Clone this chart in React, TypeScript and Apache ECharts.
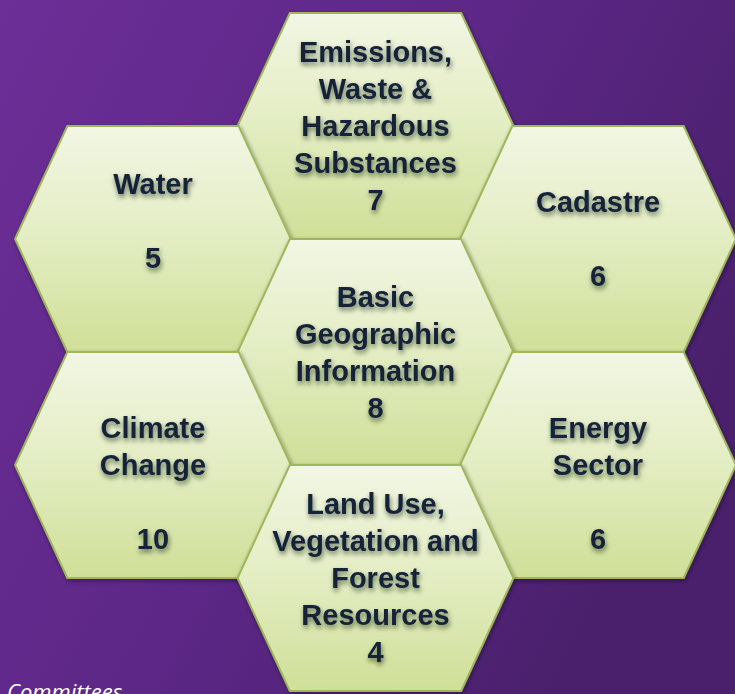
import React, { useEffect, useRef } from "react";
import * as echarts from "echarts";

// Committee names, member counts and honeycomb cell (column, half-row) of each
const committees = [
  "Emissions,\nWaste &\nHazardous\nSubstances",
  "Water",
  "Cadastre",
  "Basic\nGeographic\nInformation",
  "Climate\nChange",
  "Energy\nSector",
  "Land Use,\nVegetation and\nForest\nResources",
];
const counts = [7, 5, 6, 8, 10, 6, 4];
const columns = [1, 0, 2, 1, 0, 2, 1];
const rows = [0, 1, 1, 2, 3, 3, 4];
// blank lines in each cell's text (before name, between name and count, after count)
const leadBlank = [0, 0, 0, 0, 1, 1, 0];
const gapBlank = [0, 1, 1, 0, 1, 1, 0];
const trailBlank = [0, 1, 0, 0, 0, 0, 0];
const footerText = "Committees";

const labels = committees.map(
  (name, i) =>
    "\n".repeat(leadBlank[i]) +
    name +
    "\n" +
    "\n".repeat(gapBlank[i]) +
    String(counts[i]) +
    "\n".repeat(trailBlank[i])
);

export default function App() {
  const ref = useRef<HTMLDivElement>(null);
  useEffect(() => {
    document.body.style.margin = "0";
    const chart = echarts.init(ref.current!, null, { renderer: "svg" });
    const data = committees.map((_, i) => [columns[i], rows[i], counts[i], i]);
    chart.setOption({
      animation: false,
      grid: { left: 153, right: 137, top: 126, bottom: 116 },
      xAxis: { type: "value", min: 0, max: 2, show: false },
      yAxis: { type: "value", min: 0, max: 4, inverse: true, show: false },
      graphic: [
        {
          type: "rect",
          z: -10,
          silent: true,
          shape: { x: 0, y: 0, width: 735, height: 694 },
          style: {
            fill: new echarts.graphic.LinearGradient(0, 0, 1, 0.5, [
              { offset: 0, color: "#6c2e97" },
              { offset: 0.55, color: "#5c2786" },
              { offset: 1, color: "#4a206c" },
            ]),
          },
        },
        {
          type: "text",
          left: 7,
          top: 680,
          z: 10,
          style: {
            text: footerText,
            fontFamily: "Open Sans",
            fontStyle: "italic",
            fontSize: 22,
            fill: "#ffffff",
          },
        },
      ],
      series: [
        {
          type: "custom",
          coordinateSystem: "cartesian2d",
          clip: false,
          data,
          renderItem: (params: any, api: any) => {
            const idx = api.value(3);
            const c = api.coord([api.value(0), api.value(1)]);
            const s = api.size([1, 1]);
            const hw = s[0] * 0.62;
            const ht = s[0] * 0.385;
            const hh = s[1];
            const pts = [
              [c[0] - hw, c[1]],
              [c[0] - ht, c[1] - hh],
              [c[0] + ht, c[1] - hh],
              [c[0] + hw, c[1]],
              [c[0] + ht, c[1] + hh],
              [c[0] - ht, c[1] + hh],
            ];
            return {
              type: "group",
              children: [
                {
                  type: "polygon",
                  shape: { points: pts },
                  style: {
                    fill: new echarts.graphic.LinearGradient(0, 0, 0, 1, [
                      { offset: 0, color: "#f2f6e4" },
                      { offset: 0.5, color: "#e3edc2" },
                      { offset: 1, color: "#d0df98" },
                    ]),
                    stroke: "#9db75a",
                    lineWidth: 2,
                    shadowBlur: 4,
                    shadowColor: "rgba(20,0,40,0.45)",
                    shadowOffsetX: 1,
                    shadowOffsetY: 2,
                  },
                },
                {
                  type: "text",
                  style: {
                    text: labels[idx],
                    x: c[0],
                    y: c[1],
                    align: "center",
                    verticalAlign: "middle",
                    fontFamily: "Liberation Sans",
                    fontWeight: "bold",
                    fontSize: 29,
                    lineHeight: 37,
                    fill: "#132239",
                    textShadowColor: "rgba(20,30,10,0.6)",
                    textShadowBlur: 5,
                    textShadowOffsetX: 1,
                    textShadowOffsetY: 3,
                  },
                },
              ],
            };
          },
        },
      ],
    });
    return () => chart.dispose();
  }, []);
  return <div ref={ref} style={{ width: 735, height: 694 }} />;
}
